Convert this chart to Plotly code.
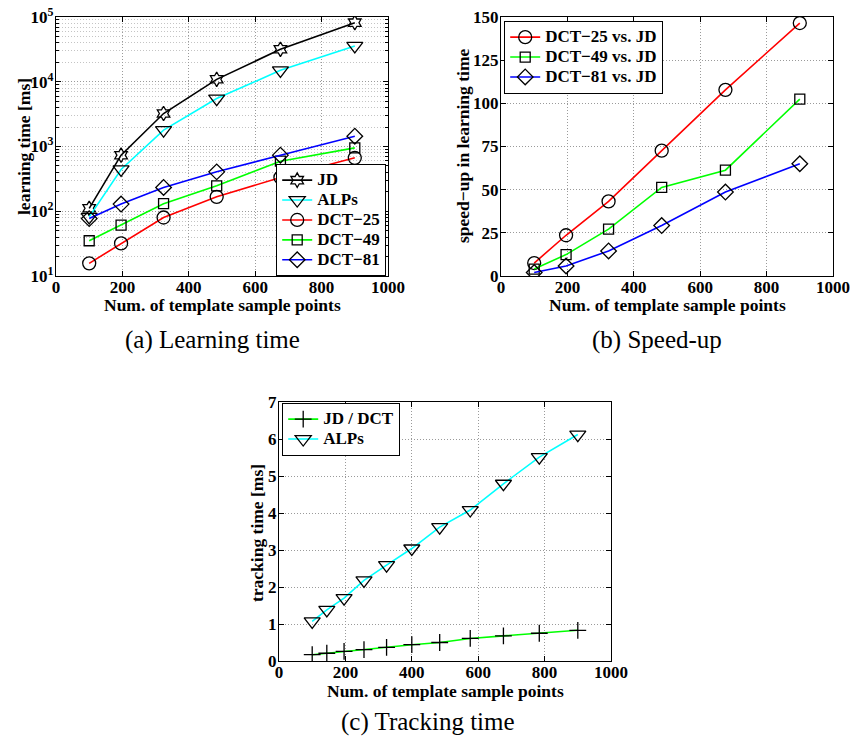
import plotly.graph_objects as go

# Template sample point counts
x_learn = [100, 196, 324, 484, 676, 900]
x_track = [100, 144, 196, 256, 324, 400, 484, 576, 676, 784, 900]

# (a) learning time [ms]
learn_jd = [111, 735, 3230, 10900, 31700, 81800]
learn_alps = [82, 442, 1790, 5500, 15000, 35700]
learn_dct25 = [15.7, 31.9, 80, 167, 333, 668]
learn_dct49 = [35, 61, 131, 247, 594, 953]
learn_dct81 = [77, 129, 233, 406, 735, 1443]

# (b) speed-up in learning time
speed_dct25 = [7.5, 23.6, 43.2, 72.6, 107.8, 146.5]
speed_dct49 = [4.0, 12.4, 27.1, 51.3, 61.3, 102.4]
speed_dct81 = [2.0, 5.8, 14.5, 29.2, 48.6, 65.0]

# (c) tracking time [ms]
track_jd_dct = [0.17, 0.21, 0.26, 0.31, 0.37, 0.44, 0.50, 0.61, 0.68, 0.75, 0.83]
track_alps = [1.07, 1.38, 1.70, 2.18, 2.59, 3.04, 3.62, 4.08, 4.79, 5.51, 6.12]

x_ticks = [0, 200, 400, 600, 800, 1000]
log_ticks = [10, 100, 1000, 10000, 100000]
log_exponents = [1, 2, 3, 4, 5]
speed_ticks = [0, 25, 50, 75, 100, 125, 150]
track_ticks = [0, 1, 2, 3, 4, 5, 6, 7]

SERIF = "Liberation Serif"
GRID = "#9a9a9a"
MINOR_GRID = "#c4c4c4"
DOTS = "1px,2px"
W, H = 854, 740
LEGEND_TEXT_PX = 17


def bold(values):
    return ["<b>%s</b>" % v for v in values]


def entry(label):
    # larger glyphs inside a compact legend row
    return "<span style='font-size:%dpx'>%s</span>" % (LEGEND_TEXT_PX, label)


fig = go.Figure()


def add(x, y, name, color, symbol, xa, ya, legend, size=12):
    fig.add_trace(go.Scatter(
        x=x, y=y, name=entry(name), mode="lines+markers",
        xaxis=xa, yaxis=ya, legend=legend,
        line=dict(color=color, width=1.6),
        marker=dict(symbol=symbol, size=size, color="black",
                    line=dict(color="black", width=1.3)),
    ))


add(x_learn, learn_jd, "JD", "black", "hexagram-open", "x", "y", "legend", 11)
add(x_learn, learn_alps, "ALPs", "#00ffff", "triangle-down-open", "x", "y", "legend", 14)
add(x_learn, learn_dct25, "DCT\u221225", "red", "circle-open", "x", "y", "legend", 13)
add(x_learn, learn_dct49, "DCT\u221249", "#00ff00", "square-open", "x", "y", "legend", 10)
add(x_learn, learn_dct81, "DCT\u221281", "blue", "diamond-open", "x", "y", "legend", 12)

add(x_learn, speed_dct25, "DCT\u221225 vs. JD", "red", "circle-open", "x2", "y2", "legend2", 13)
add(x_learn, speed_dct49, "DCT\u221249 vs. JD", "#00ff00", "square-open", "x2", "y2", "legend2", 10)
add(x_learn, speed_dct81, "DCT\u221281 vs. JD", "blue", "diamond-open", "x2", "y2", "legend2", 12)

add(x_track, track_jd_dct, "JD / DCT", "#00ff00", "cross-thin-open", "x3", "y3", "legend3", 12)
add(x_track, track_alps, "ALPs", "#00ffff", "triangle-down-open", "x3", "y3", "legend3", 14)

tick_font = dict(family=SERIF, size=17, color="black")
axis_common = dict(
    showline=True, linecolor="black", linewidth=1.2, mirror="ticks",
    ticks="inside", ticklen=5, tickcolor="black", tickfont=tick_font,
    showgrid=True, gridcolor=GRID, griddash=DOTS, gridwidth=1,
    zeroline=False, fixedrange=True, automargin=False,
)
x_common = dict(axis_common, range=[0, 1000], tickvals=x_ticks,
                ticktext=bold(x_ticks), ticklabelstandoff=-5)
y_common = dict(axis_common, ticklabelstandoff=-2)


def px_x(a, b):
    return [a / W, b / W]


def px_y(top, bottom):
    return [1 - bottom / H, 1 - top / H]


dom_a_x, dom_ab_y = px_x(56, 388), px_y(17, 276)
dom_b_x = px_x(501, 833)
dom_c_x, dom_c_y = px_x(279, 611), px_y(402, 661)

fig.update_layout(
    width=W, height=H, autosize=False,
    margin=dict(l=0, r=0, t=0, b=0, pad=0, autoexpand=False),
    paper_bgcolor="white", plot_bgcolor="white",
    font=dict(family=SERIF, color="black"),
    xaxis=dict(x_common, domain=dom_a_x, anchor="y"),
    yaxis=dict(y_common, domain=dom_ab_y, type="log", range=[1, 5],
               tickvals=log_ticks,
               ticktext=["<b>10<sup>%d</sup></b>" % e for e in log_exponents],
               anchor="x",
               minor=dict(dtick="D1", showgrid=True, gridcolor=MINOR_GRID, griddash=DOTS,
                          ticks="inside", ticklen=3, tickcolor="black")),
    xaxis2=dict(x_common, domain=dom_b_x, anchor="y2"),
    yaxis2=dict(y_common, domain=dom_ab_y, range=[0, 150], tickvals=speed_ticks,
                ticktext=bold(speed_ticks), anchor="x2"),
    xaxis3=dict(x_common, domain=dom_c_x, anchor="y3"),
    yaxis3=dict(y_common, domain=dom_c_y, range=[0, 7], tickvals=track_ticks,
                ticktext=bold(track_ticks), anchor="x3"),
)

legend_common = dict(
    bgcolor="white", bordercolor="black", borderwidth=1.2,
    font=dict(family=SERIF, size=13, color="black", weight="bold"),
    yanchor="top", tracegroupgap=0, itemwidth=30,
)
fig.update_layout(
    legend=dict(legend_common, x=386 / W, xanchor="right", y=1 - 164 / H),
    legend2=dict(legend_common, x=504 / W, xanchor="left", y=1 - 21 / H),
    legend3=dict(legend_common, x=282 / W, xanchor="left", y=1 - 403 / H),
)

# axis titles and sub-figure captions
texts = [
    (222, 305, "Num. of template sample points", 0, 17.5, "bold"),
    (667, 305, "Num. of template sample points", 0, 17.5, "bold"),
    (445, 691, "Num. of template sample points", 0, 17.5, "bold"),
    (24, 147, "learning time [ms]", -90, 17.5, "bold"),
    (463, 146, "speed\u2212up in learning time", -90, 17.5, "bold"),
    (257, 533, "tracking time [ms]", -90, 17.5, "bold"),
    (212, 340, "(a) Learning time", 0, 25, "normal"),
    (657, 340, "(b) Speed-up", 0, 25, "normal"),
    (428, 722, "(c) Tracking time", 0, 25, "normal"),
]
for cx, cy, txt, ang, sz, wt in texts:
    fig.add_annotation(
        x=cx / W, y=1 - cy / H, xref="paper", yref="paper",
        text=txt, textangle=ang, showarrow=False,
        xanchor="center", yanchor="middle",
        font=dict(family=SERIF, size=sz, color="black", weight=wt),
    )

fig.write_html("out.html")
